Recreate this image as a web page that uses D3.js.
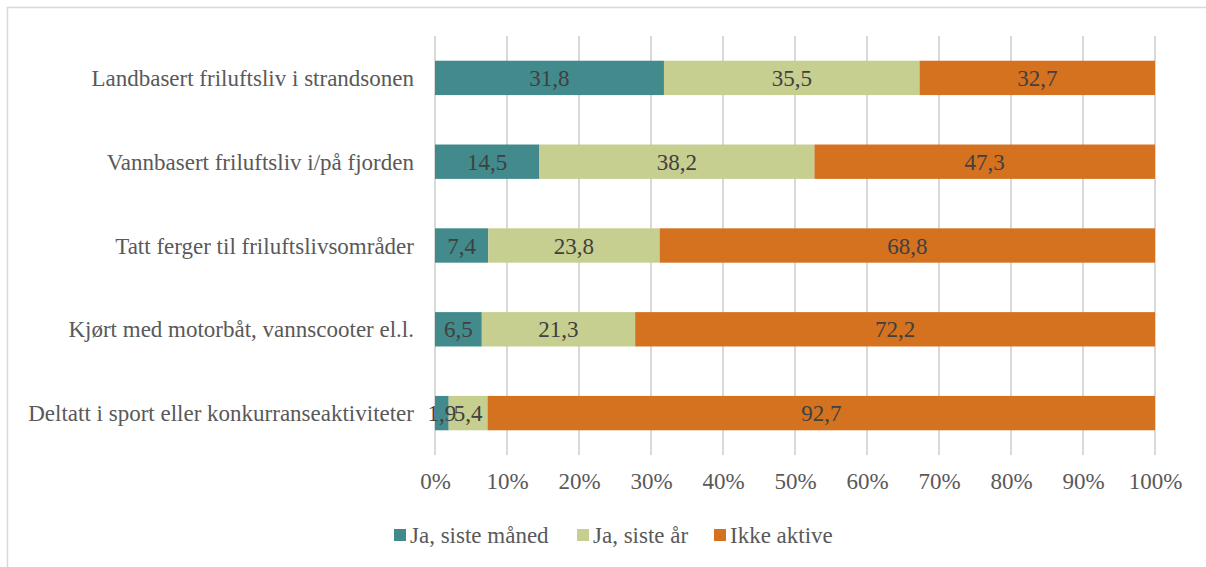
<!DOCTYPE html>
<html>
<head>
<meta charset="utf-8">
<script src="https://cdn.jsdelivr.net/npm/d3@7"></script>
<style>
  body { margin: 0; background: #fff; }
</style>
</head>
<body>
<svg id="graph" width="1206" height="567"></svg>
<script>
var categories = [
  "Landbasert friluftsliv i strandsonen",
  "Vannbasert friluftsliv i/på fjorden",
  "Tatt ferger til friluftslivsområder",
  "Kjørt med motorbåt, vannscooter el.l.",
  "Deltatt i sport eller konkurranseaktiviteter"
];
var seriesNames = ["Ja, siste måned", "Ja, siste år", "Ikke aktive"];
var sisteManed = [31.8, 14.5, 7.4, 6.5, 1.9];
var sisteAr = [35.5, 38.2, 23.8, 21.3, 5.4];
var ikkeAktive = [32.7, 47.3, 68.8, 72.2, 92.7];
var colors = ["#428a8c", "#c6ce90", "#d4721f"];
var xTicks = [0, 10, 20, 30, 40, 50, 60, 70, 80, 90, 100];

var svg = d3.select("#graph");
var fs = "23px", ff = "'Liberation Serif', serif";

// outer frame
svg.append("rect")
  .attr("x", 7.5).attr("y", 7.5)
  .attr("width", 1220).attr("height", 580)
  .attr("fill", "none").attr("stroke", "#d9d9d9").attr("stroke-width", 1.5);

// stacked segments
var segs = [];
categories.forEach(function(c, i) {
  var vals = [sisteManed[i], sisteAr[i], ikkeAktive[i]], acc = 0;
  vals.forEach(function(v, k) {
    segs.push({ cat: c, k: k, v: v, x0: acc, x1: acc + v });
    acc += v;
  });
});

var x = d3.scaleLinear().domain([0, 100]).range([435, 1155]);
var y = d3.scaleBand().domain(categories).range([36, 455]).paddingInner(0.59).paddingOuter(0.295);

// gridlines
svg.append("g").selectAll("line")
  .data(xTicks).enter().append("line")
  .attr("x1", function(d) { return x(d); })
  .attr("x2", function(d) { return x(d); })
  .attr("y1", 36).attr("y2", 455)
  .attr("stroke", "#d9d9d9").attr("stroke-width", 2);

// bars
svg.append("g").selectAll("rect")
  .data(segs).enter().append("rect")
  .attr("x", function(d) { return x(d.x0); })
  .attr("width", function(d) { return x(d.x1) - x(d.x0); })
  .attr("y", function(d) { return y(d.cat); })
  .attr("height", y.bandwidth())
  .attr("fill", function(d) { return colors[d.k]; });

// value labels on top of all bars
svg.append("g").selectAll("text")
  .data(segs).enter().append("text")
  .attr("x", function(d) { return (x(d.x0) + x(d.x1)) / 2; })
  .attr("y", function(d) { return y(d.cat) + y.bandwidth() / 2; })
  .attr("dy", "0.35em")
  .attr("text-anchor", "middle")
  .style("font-family", ff).style("font-size", fs)
  .style("fill", "#404040")
  .text(function(d) { return String(d.v).replace(".", ","); });

// category labels
svg.append("g").selectAll("text")
  .data(categories).enter().append("text")
  .attr("x", 414)
  .attr("y", function(d) { return y(d) + y.bandwidth() / 2; })
  .attr("dy", "0.35em")
  .attr("text-anchor", "end")
  .style("font-family", ff).style("font-size", fs)
  .style("fill", "#595959")
  .text(function(d) { return d; });

// x axis labels
var xAxis = svg.append("g")
  .attr("transform", "translate(0,455)")
  .call(d3.axisBottom(x).tickValues(xTicks).tickSize(0).tickPadding(18)
    .tickFormat(function(d) { return d + "%"; }));
xAxis.select(".domain").remove();
xAxis.selectAll("text")
  .style("font-family", ff).style("font-size", fs)
  .attr("fill", "#595959");

// legend
var legendX = [394, 577, 714];
var legend = svg.append("g").selectAll("g")
  .data(seriesNames).enter().append("g")
  .attr("transform", function(d, i) { return "translate(" + legendX[i] + ",529)"; });
legend.append("rect").attr("width", 12).attr("height", 12)
  .attr("fill", function(d, i) { return colors[i]; });
legend.append("text").attr("x", 16).attr("y", 6).attr("dy", "0.35em")
  .style("font-family", ff).style("font-size", fs)
  .style("fill", "#595959")
  .text(function(d) { return d; });
</script>
</body>
</html>
